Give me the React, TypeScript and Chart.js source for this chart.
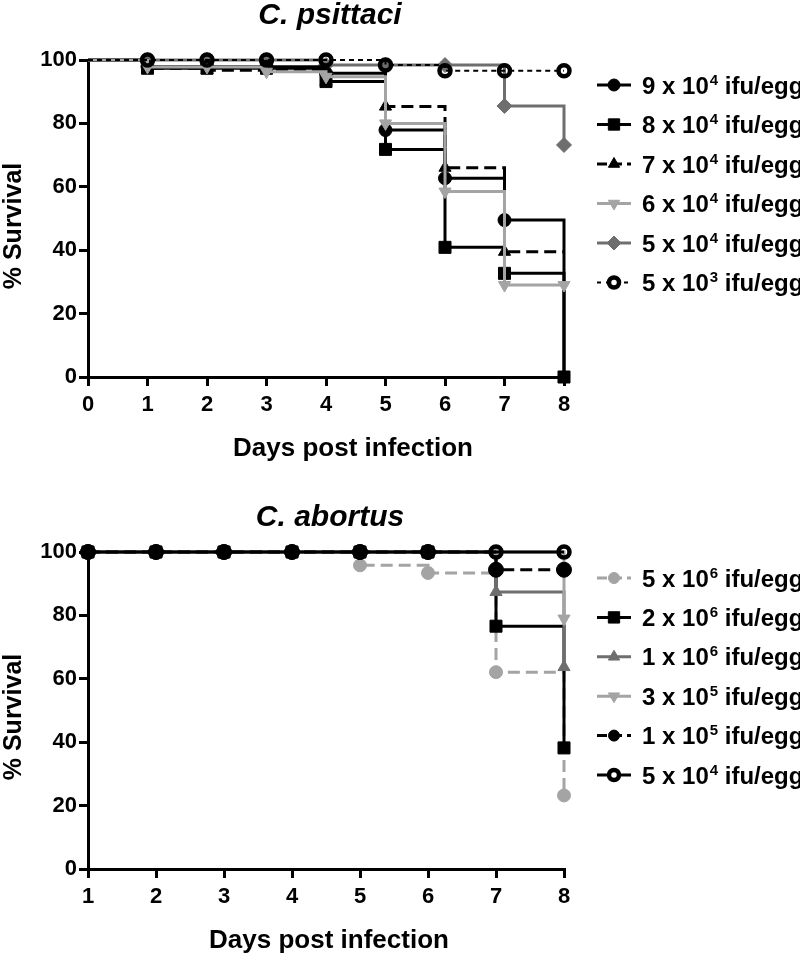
import React, { useEffect, useRef } from 'react';
import { Chart, registerables } from 'chart.js';
import { drawPoint } from 'chart.js/helpers';

Chart.register(...registerables);

const FONT = '"Liberation Sans", Arial, Helvetica, sans-serif';
const BLACK = '#000000';
const LIGHT = '#a4a4a4';
const DARK = '#6e6e6e';

// ---------- shared text ----------
const xAxisTitle = 'Days post infection';
const yAxisTitle = '% Survival';
const yTicks = [0, 20, 40, 60, 80, 100];

// ---------- C. psittaci ----------
const psittaciTitle = 'C. psittaci';
const psittaciDays = [0, 1, 2, 3, 4, 5, 6, 7, 8];
const psittaciLabels = [
  '9 x 10^4 ifu/egg',
  '8 x 10^4 ifu/egg',
  '7 x 10^4 ifu/egg',
  '6 x 10^4 ifu/egg',
  '5 x 10^4 ifu/egg',
  '5 x 10^3 ifu/egg',
];
const psittaci9e4 = [100, 97.9, 97.9, 97.9, 95.8, 77.9, 62.7, 49.5, 0];
const psittaci8e4 = [100, 97.4, 97.4, 97.4, 93.2, 71.8, 40.9, 32.7, 0];
const psittaci7e4 = [100, 97.4, 96.8, 96.8, 93.2, 85.3, 66.0, 39.5, 39.5];
const psittaci6e4 = [100, 97.8, 97.8, 96.3, 94.7, 80.0, 58.5, 29.0, 29.0];
const psittaci5e4 = [100, 100, 100, 100, 98.4, 98.4, 98.4, 85.5, 73.2];
const psittaci5e3 = [100, 100, 100, 100, 100, 98.4, 96.6, 96.6, 96.6];

// ---------- C. abortus ----------
const abortusTitle = 'C. abortus';
const abortusDays = [1, 2, 3, 4, 5, 6, 7, 8];
const abortusLabels = [
  '5 x 10^6 ifu/egg',
  '2 x 10^6 ifu/egg',
  '1 x 10^6 ifu/egg',
  '3 x 10^5 ifu/egg',
  '1 x 10^5 ifu/egg',
  '5 x 10^4 ifu/egg',
];
const abortus5e6 = [100, 100, 100, 100, 95.8, 93.4, 62.1, 23.2];
const abortus2e6 = [100, 100, 100, 100, 100, 100, 76.6, 38.2];
const abortus1e6 = [100, 100, 100, 100, 100, 100, 87.4, 63.7];
const abortus3e5 = [100, 100, 100, 100, 100, 100, 100, 79.0];
const abortus1e5 = [100, 100, 100, 100, 100, 100, 94.4, 94.4];
const abortus5e4 = [100, 100, 100, 100, 100, 100, 100, 100];

type Style = {
  color: string;
  lw: number;
  dash: number[];
  legendDash: number[];
  ps: string;
  rot: number;
  r: number;
  legendR: number;
  fill: string;
  legendFill: string;
  pb: string;
  pbw: number;
  order: number;
  hide: number[];
};

const psittaciStyles: Style[] = [
  { color: BLACK, lw: 3, dash: [], legendDash: [], ps: 'circle', rot: 0, r: 6.5, legendR: 6, fill: BLACK, legendFill: BLACK, pb: BLACK, pbw: 1, order: 2, hide: [0, 8] },
  { color: BLACK, lw: 3, dash: [], legendDash: [], ps: 'rect', rot: 0, r: 8.5, legendR: 8, fill: BLACK, legendFill: BLACK, pb: BLACK, pbw: 1, order: 3, hide: [0] },
  { color: BLACK, lw: 3, dash: [12, 6], legendDash: [10, 5], ps: 'triangle', rot: 0, r: 7, legendR: 6.5, fill: BLACK, legendFill: BLACK, pb: BLACK, pbw: 1, order: 4, hide: [0, 8] },
  { color: LIGHT, lw: 3, dash: [], legendDash: [], ps: 'triangle', rot: 180, r: 7, legendR: 6.5, fill: LIGHT, legendFill: LIGHT, pb: LIGHT, pbw: 1, order: 1, hide: [0] },
  { color: DARK, lw: 3, dash: [], legendDash: [], ps: 'rectRot', rot: 0, r: 7.5, legendR: 7, fill: DARK, legendFill: DARK, pb: DARK, pbw: 1, order: 5, hide: [0] },
  { color: BLACK, lw: 2, dash: [5, 4], legendDash: [4, 5], ps: 'circle', rot: 0, r: 5.5, legendR: 5, fill: 'rgba(0,0,0,0)', legendFill: '#ffffff', pb: BLACK, pbw: 4.5, order: 0, hide: [0] },
];

const abortusStyles: Style[] = [
  { color: LIGHT, lw: 3, dash: [12, 6], legendDash: [10, 5], ps: 'circle', rot: 0, r: 6.5, legendR: 5.5, fill: LIGHT, legendFill: LIGHT, pb: LIGHT, pbw: 1, order: 5, hide: [] },
  { color: BLACK, lw: 3, dash: [], legendDash: [], ps: 'rect', rot: 0, r: 8.5, legendR: 8, fill: BLACK, legendFill: BLACK, pb: BLACK, pbw: 1, order: 4, hide: [] },
  { color: DARK, lw: 3, dash: [], legendDash: [], ps: 'triangle', rot: 0, r: 7, legendR: 6.5, fill: DARK, legendFill: DARK, pb: DARK, pbw: 1, order: 3, hide: [] },
  { color: LIGHT, lw: 3, dash: [], legendDash: [], ps: 'triangle', rot: 180, r: 7, legendR: 6.5, fill: LIGHT, legendFill: LIGHT, pb: LIGHT, pbw: 1, order: 2, hide: [] },
  { color: BLACK, lw: 3, dash: [12, 6], legendDash: [10, 5], ps: 'circle', rot: 0, r: 7.5, legendR: 5.5, fill: BLACK, legendFill: BLACK, pb: BLACK, pbw: 1, order: 0, hide: [] },
  { color: BLACK, lw: 3, dash: [], legendDash: [], ps: 'circle', rot: 0, r: 5.5, legendR: 5, fill: 'rgba(0,0,0,0)', legendFill: '#ffffff', pb: BLACK, pbw: 4.5, order: 1, hide: [] },
];

type Layout = {
  height: number;
  padTop: number;
  plotBottom: number;
  titleY: number;
  xTitleX: number;
  xTitleY: number;
  yTitleY: number;
  legendY0: number;
  legendStep: number;
};

const psittaciLayout: Layout = { height: 480, padTop: 60, plotBottom: 377, titleY: 24, xTitleX: 353, xTitleY: 456, yTitleY: 226, legendY0: 85, legendStep: 39.5 };
const abortusLayout: Layout = { height: 474, padTop: 72, plotBottom: 389, titleY: 46, xTitleX: 329, xTitleY: 468, yTitleY: 237, legendY0: 98, legendStep: 39.4 };

function buildDatasets(days: number[], series: number[][], labels: string[], styles: Style[]) {
  return series.map((vals, i) => {
    const st = styles[i];
    return {
      label: labels[i],
      data: days.map((d, j) => ({ x: d, y: vals[j] })),
      stepped: 'before' as const,
      borderColor: st.color,
      borderWidth: st.lw,
      borderDash: st.dash,
      pointStyle: st.ps,
      pointRotation: st.rot,
      pointRadius: days.map((_, j) => (st.hide.includes(j) ? 0 : st.r)),
      pointHoverRadius: 0,
      pointBackgroundColor: st.fill,
      pointBorderColor: st.pb,
      pointBorderWidth: st.pbw,
      fill: false,
      clip: false as const,
      order: st.order,
      tension: 0,
    };
  });
}

function drawLabel(ctx: CanvasRenderingContext2D, text: string, x: number, y: number) {
  const [pre, rest] = text.split('^');
  const exp = rest.charAt(0);
  const post = rest.slice(1);
  ctx.textAlign = 'left';
  ctx.textBaseline = 'alphabetic';
  ctx.font = `bold 24px ${FONT}`;
  ctx.fillText(pre, x, y + 8.5);
  let cx = x + ctx.measureText(pre).width + 1;
  ctx.font = `bold 15px ${FONT}`;
  ctx.fillText(exp, cx, y - 0.5);
  cx += ctx.measureText(exp).width;
  ctx.font = `bold 24px ${FONT}`;
  ctx.fillText(post, cx, y + 8.5);
}

function makeDecor(title: string, labels: string[], styles: Style[], L: Layout) {
  return {
    id: 'decor',
    afterDraw(chart: any) {
      const ctx: CanvasRenderingContext2D = chart.ctx;
      ctx.save();
      ctx.fillStyle = BLACK;
      // chart title
      ctx.font = `italic bold 30px ${FONT}`;
      ctx.textAlign = 'center';
      ctx.textBaseline = 'alphabetic';
      ctx.fillText(title, 330, L.titleY);
      // x axis title
      ctx.font = `bold 26px ${FONT}`;
      ctx.fillText(xAxisTitle, L.xTitleX, L.xTitleY);
      // y axis title
      ctx.save();
      ctx.translate(14, L.yTitleY);
      ctx.rotate(-Math.PI / 2);
      ctx.font = `bold 25px ${FONT}`;
      ctx.textBaseline = 'middle';
      ctx.fillText(yAxisTitle, 0, 0);
      ctx.restore();
      // legend
      labels.forEach((lab, i) => {
        const st = styles[i];
        const y = L.legendY0 + i * L.legendStep;
        ctx.save();
        ctx.strokeStyle = st.color;
        ctx.lineWidth = st.lw;
        ctx.setLineDash(st.legendDash);
        ctx.beginPath();
        ctx.moveTo(597, y);
        ctx.lineTo(631, y);
        ctx.stroke();
        ctx.restore();
        ctx.save();
        ctx.fillStyle = st.legendFill;
        ctx.strokeStyle = st.pb;
        ctx.lineWidth = st.pbw;
        ctx.setLineDash([]);
        drawPoint(ctx, { pointStyle: st.ps as any, rotation: st.rot, radius: st.legendR, borderWidth: st.pbw }, 614, y);
        ctx.restore();
        ctx.fillStyle = BLACK;
        drawLabel(ctx, lab, 642, y);
      });
      ctx.restore();
    },
  };
}

function makeConfig(days: number[], series: number[][], labels: string[], styles: Style[], title: string, L: Layout): any {
  const tickFont = { family: FONT, size: 22, weight: 'bold' as const };
  const xTicks = days.slice();
  return {
    type: 'line',
    data: { datasets: buildDatasets(days, series, labels, styles) },
    options: {
      responsive: false,
      animation: false,
      devicePixelRatio: 1,
      events: [],
      layout: { padding: { top: L.padTop, right: 236, left: 0, bottom: 0 } },
      plugins: { legend: { display: false }, tooltip: { enabled: false }, title: { display: false } },
      scales: {
        x: {
          type: 'linear',
          min: days[0],
          max: days[days.length - 1],
          afterBuildTicks: (s: any) => {
            s.ticks = xTicks.map((v) => ({ value: v }));
          },
          afterFit: (s: any) => {
            s.height = L.height - L.plotBottom;
          },
          ticks: { font: tickFont, color: BLACK, padding: 6, autoSkip: false, maxRotation: 0 },
          grid: { display: true, drawOnChartArea: false, drawTicks: true, tickLength: 9, lineWidth: 3, color: BLACK },
          border: { display: true, width: 3, color: BLACK },
        },
        y: {
          type: 'linear',
          min: 0,
          max: 100,
          afterBuildTicks: (s: any) => {
            s.ticks = yTicks.map((v) => ({ value: v }));
          },
          afterFit: (s: any) => {
            s.width = 88;
          },
          ticks: { font: tickFont, color: BLACK, padding: 2 },
          grid: { display: true, drawOnChartArea: false, drawTicks: true, tickLength: 9, lineWidth: 3, color: BLACK },
          border: { display: true, width: 3, color: BLACK },
        },
      },
    },
    plugins: [makeDecor(title, labels, styles, L)],
  };
}

function SurvivalChart(props: { config: any; height: number }) {
  const ref = useRef<HTMLCanvasElement>(null);
  useEffect(() => {
    const chart = new Chart(ref.current as HTMLCanvasElement, props.config);
    return () => chart.destroy();
  }, []);
  return <canvas ref={ref} width={800} height={props.height} style={{ display: 'block', width: 800, height: props.height }} />;
}

export default function App() {
  const topConfig = makeConfig(
    psittaciDays,
    [psittaci9e4, psittaci8e4, psittaci7e4, psittaci6e4, psittaci5e4, psittaci5e3],
    psittaciLabels,
    psittaciStyles,
    psittaciTitle,
    psittaciLayout
  );
  const bottomConfig = makeConfig(
    abortusDays,
    [abortus5e6, abortus2e6, abortus1e6, abortus3e5, abortus1e5, abortus5e4],
    abortusLabels,
    abortusStyles,
    abortusTitle,
    abortusLayout
  );
  return (
    <div style={{ position: 'absolute', left: 0, top: 0, width: 800, height: 954, background: '#ffffff', overflow: 'hidden' }}>
      <SurvivalChart config={topConfig} height={psittaciLayout.height} />
      <SurvivalChart config={bottomConfig} height={abortusLayout.height} />
    </div>
  );
}
